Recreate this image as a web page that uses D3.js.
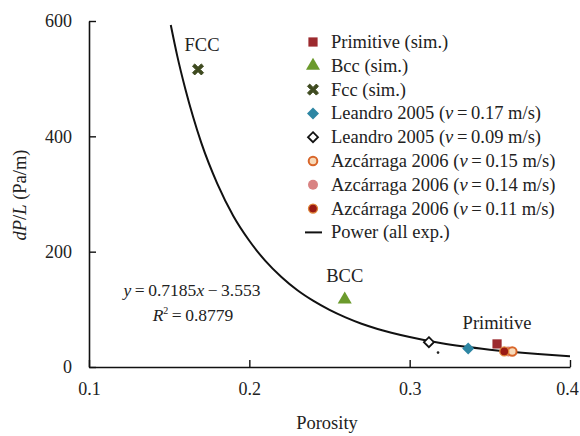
<!DOCTYPE html>
<html><head><meta charset="utf-8">
<script src="https://cdn.jsdelivr.net/npm/d3@7"></script>
<style>body{margin:0;background:#fff}</style>
</head><body><svg id="c" width="580" height="436"></svg>
<script>
// ---- data ----
const xTicks = [0.1, 0.2, 0.3, 0.4];
const yTicks = [0, 200, 400, 600];
const primitive = [{x: 0.3545, y: 40}];
const bcc = [{x: 0.2595, y: 117}];
const fcc = [{x: 0.168, y: 516}];
const leandro017 = [{x: 0.3365, y: 32}];
const leandro009 = [{x: 0.312, y: 43}];
const azc015 = [{x: 0.364, y: 27}];
const azc014 = [{x: 0.3615, y: 27}];
const azc011 = [{x: 0.359, y: 27}];
const strayDots = [{x: 0.3177, y: 25}];
// power fit curve (all exp.)
const powerX = [0.151, 0.155, 0.16, 0.165, 0.17, 0.18, 0.19, 0.2, 0.21, 0.22, 0.23, 0.24, 0.25, 0.26, 0.27, 0.28, 0.3, 0.32, 0.35, 0.38, 0.4];
const powerY = [593, 540, 483, 433, 389, 318, 262, 219, 184, 156, 133, 114.5, 99, 86, 75, 66, 52, 41, 30, 22.4, 18.6];
const pointLabels = [{t: "FCC", x: 0.1705, y: 548}, {t: "BCC", x: 0.2595, y: 148}, {t: "Primitive", x: 0.3545, y: 66}];

const FONT = "Liberation Serif";
const FS = 18.5;
const svg = d3.select("#c");
const x = d3.scaleLinear().domain([0.1, 0.4]).range([89, 570]);
const y = d3.scaleLinear().domain([0, 600]).range([367, 21]);

function txt(sel, size) { return sel.attr("font-family", FONT).attr("font-size", size || FS).attr("fill", "#222"); }

// axes
const xa = svg.append("g").attr("transform", "translate(0,367)")
  .call(d3.axisBottom(x).tickValues(xTicks).tickSizeInner(-7).tickSizeOuter(0).tickPadding(15).tickFormat(d3.format(".1f")));
const ya = svg.append("g").attr("transform", "translate(89,0)")
  .call(d3.axisLeft(y).tickValues(yTicks).tickSizeInner(-7).tickSizeOuter(0).tickPadding(17).tickFormat(d3.format("d")));
[xa, ya].forEach(a => {
  a.attr("font-family", FONT).attr("font-size", 18);
  a.selectAll("path.domain").attr("stroke", "#111").attr("stroke-width", 1.6);
  a.selectAll("line").attr("stroke", "#111").attr("stroke-width", 1.4);
  txt(a.selectAll("text"), 18);
});
xa.selectAll(".tick").filter(d => d === 0.4).select("text").attr("dx", -3);

// axis titles
txt(svg.append("text")).attr("x", 327).attr("y", 429).attr("text-anchor", "middle").text("Porosity");
const yt = txt(svg.append("text")).attr("transform", "translate(26,195) rotate(-90)").attr("text-anchor", "middle");
yt.append("tspan").attr("font-style", "italic").text("dP");
yt.append("tspan").text("/");
yt.append("tspan").attr("font-style", "italic").text("L");
yt.append("tspan").text(" (Pa/m)");

// power curve
const line = d3.line().x(d => x(d[0])).y(d => y(d[1])).curve(d3.curveMonotoneX);
svg.append("path").datum(powerX.map((v, i) => [v, powerY[i]]))
  .attr("d", line).attr("fill", "none").attr("stroke", "#111").attr("stroke-width", 2);

// marker drawers
const sym = (type, size) => d3.symbol().type(type).size(size)();
const xShape = "M-5.5,-3.3 L-3.3,-5.5 L0,-2.2 L3.3,-5.5 L5.5,-3.3 L2.2,0 L5.5,3.3 L3.3,5.5 L0,2.2 L-3.3,5.5 L-5.5,3.3 L-2.2,0 Z";
const diamond = s => `M0,${-s} L${s},0 L0,${s} L${-s},0 Z`;
const styles = {
  primitive: g => g.append("path").attr("d", sym(d3.symbolSquare, 85)).attr("fill", "#9c2a2e"),
  bcc: g => g.append("path").attr("d", sym(d3.symbolTriangle, 85)).attr("fill", "#6b9a2c"),
  fcc: g => g.append("path").attr("d", xShape).attr("fill", "#3e4a1f").attr("stroke", "#3e4a1f").attr("stroke-width", 1),
  leandro017: g => g.append("path").attr("d", diamond(6)).attr("fill", "#2d86a3"),
  leandro009: g => g.append("path").attr("d", diamond(5)).attr("fill", "#fff").attr("stroke", "#111").attr("stroke-width", 1.8),
  azc015: g => g.append("circle").attr("r", 4.3).attr("fill", "#f7d9b8").attr("stroke", "#d9662a").attr("stroke-width", 2),
  azc014: g => g.append("circle").attr("r", 5).attr("fill", "#d98282"),
  azc011: g => g.append("circle").attr("r", 4.5).attr("fill", "#9a1a14").attr("stroke", "#e0863a").attr("stroke-width", 1.3)
};
const series = [
  {key: "primitive", data: primitive},
  {key: "bcc", data: bcc},
  {key: "fcc", data: fcc},
  {key: "leandro017", data: leandro017},
  {key: "leandro009", data: leandro009},
  {key: "azc014", data: azc014},
  {key: "azc015", data: azc015},
  {key: "azc011", data: azc011}
];
series.forEach(s => {
  s.data.forEach(d => {
    const g = svg.append("g").attr("transform", `translate(${x(d.x)},${y(d.y)})`);
    styles[s.key](g);
  });
});
strayDots.forEach(d => svg.append("circle").attr("cx", x(d.x)).attr("cy", y(d.y)).attr("r", 1.3).attr("fill", "#222"));

// point labels
pointLabels.forEach(p => txt(svg.append("text")).attr("x", x(p.x)).attr("y", y(p.y)).attr("text-anchor", "middle").text(p.t));

// equation
const eq = txt(svg.append("text"), 17.5).attr("x", 192).attr("y", 296).attr("text-anchor", "middle");
eq.append("tspan").attr("font-style", "italic").text("y");
eq.append("tspan").text("\u2009=\u20090.7185");
eq.append("tspan").attr("font-style", "italic").text("x");
eq.append("tspan").text("\u2009\u2212\u20093.553");
const r2 = txt(svg.append("text"), 17.5).attr("x", 193).attr("y", 321).attr("text-anchor", "middle");
r2.append("tspan").attr("font-style", "italic").text("R");
r2.append("tspan").attr("dy", -7).attr("font-size", 10).text("2");
r2.append("tspan").attr("dy", 7).text("\u2009=\u20090.8779");

// legend
const legend = [
  {key: "primitive", label: ["Primitive (sim.)"]},
  {key: "bcc", label: ["Bcc (sim.)"]},
  {key: "fcc", label: ["Fcc (sim.)"]},
  {key: "leandro017", label: ["Leandro 2005 (", "v", "\u2009=\u20090.17 m/s)"]},
  {key: "leandro009", label: ["Leandro 2005 (", "v", "\u2009=\u20090.09 m/s)"]},
  {key: "azc015", label: ["Azcárraga 2006 (", "v", "\u2009=\u20090.15 m/s)"]},
  {key: "azc014", label: ["Azcárraga 2006 (", "v", "\u2009=\u20090.14 m/s)"]},
  {key: "azc011", label: ["Azcárraga 2006 (", "v", "\u2009=\u20090.11 m/s)"]},
  {key: "power", label: ["Power (all exp.)"]}
];
legend.forEach((l, i) => {
  const cy = 42 + i * 23.8;
  const g = svg.append("g").attr("transform", `translate(313,${cy})`);
  if (l.key === "power") g.append("line").attr("x1", -8).attr("x2", 9).attr("stroke", "#111").attr("stroke-width", 2);
  else styles[l.key](g);
  const t = txt(svg.append("text")).attr("x", 331).attr("y", cy + 6);
  l.label.forEach((s, j) => { const ts = t.append("tspan").text(s); if (j === 1) ts.attr("font-style", "italic"); });
});
</script></body></html>
